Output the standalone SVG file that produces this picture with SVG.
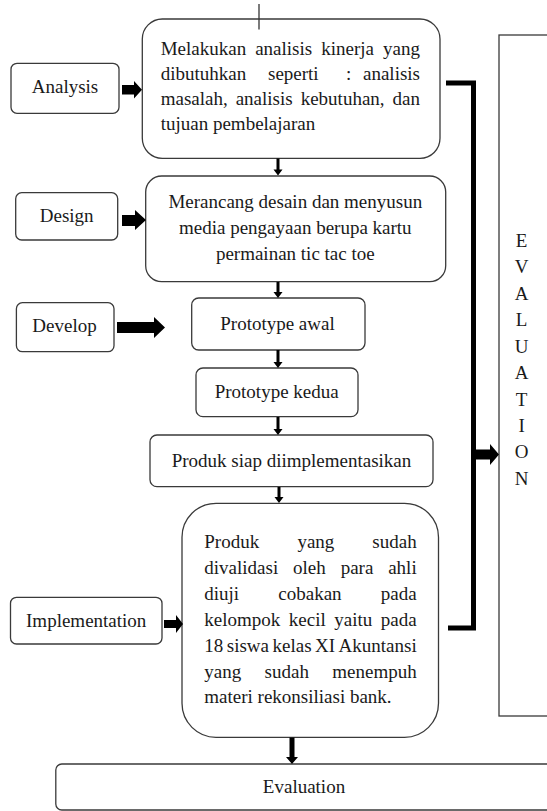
<svg xmlns="http://www.w3.org/2000/svg" width="547" height="811" viewBox="0 0 547 811">
<style>
.box{fill:#fff;stroke:#3a3a3a;stroke-width:1.3}
.t{font-family:"Liberation Serif","Times New Roman",serif;font-size:19px;fill:#1a1a1a}
.c{text-anchor:middle}
.e{text-anchor:end}
.arr{fill:#000}
.thick{fill:none;stroke:#000;stroke-width:5}
</style>
<rect width="547" height="811" fill="#fff"/>

<g id="evaluation-side">
<rect class="box" x="499" y="35" width="100" height="681"/>
<text class="t c" x="521.6" y="246.5">E</text>
<text class="t c" x="521.6" y="273">V</text>
<text class="t c" x="521.6" y="299.5">A</text>
<text class="t c" x="521.6" y="326">L</text>
<text class="t c" x="521.6" y="352.5">U</text>
<text class="t c" x="521.6" y="379">A</text>
<text class="t c" x="521.6" y="405.5">T</text>
<text class="t c" x="521.6" y="432">I</text>
<text class="t c" x="521.6" y="458">O</text>
<text class="t c" x="521.6" y="484.5">N</text>
</g>

<g id="analysis">
<rect class="box" x="11" y="63.3" width="108" height="50" rx="6"/>
<text class="t c" x="65" y="93.3">Analysis</text>
</g>

<g id="box-analisis">
<rect class="box" x="142.3" y="19" width="297.7" height="139.3" rx="20"/>
<text class="t" y="54.5"><tspan x="160.7">Melakukan</tspan><tspan x="255.2">analisis</tspan><tspan x="321.3">kinerja</tspan><tspan x="420" text-anchor="end">yang</tspan></text>
<text class="t" y="80"><tspan x="160.7">dibutuhkan</tspan><tspan x="268">seperti</tspan><tspan x="346">:</tspan><tspan x="420" text-anchor="end">analisis</tspan></text>
<text class="t" y="105"><tspan x="160.7">masalah,</tspan><tspan x="235.7">analisis</tspan><tspan x="300.7">kebutuhan,</tspan><tspan x="420" text-anchor="end">dan</tspan></text>
<text class="t" x="160.7" y="130">tujuan pembelajaran</text>
</g>

<g id="design">
<rect class="box" x="15.7" y="192.7" width="102" height="47.3" rx="6"/>
<text class="t c" x="66.7" y="221.7">Design</text>
</g>

<g id="box-design">
<rect class="box" x="145.7" y="176" width="300" height="105.7" rx="16"/>
<text class="t c" x="295.3" y="208">Merancang desain dan menyusun</text>
<text class="t c" x="295.3" y="234">media pengayaan berupa kartu</text>
<text class="t c" x="295.3" y="260">permainan tic tac toe</text>
</g>

<g id="develop">
<rect class="box" x="16.4" y="302.7" width="97.6" height="49" rx="6"/>
<text class="t c" x="64.5" y="331.7">Develop</text>
</g>

<g id="prototype-awal">
<rect class="box" x="191.7" y="298" width="173.3" height="52" rx="7"/>
<text class="t c" x="277.5" y="330">Prototype awal</text>
</g>

<g id="prototype-kedua">
<rect class="box" x="196" y="368" width="162" height="48.7" rx="7"/>
<text class="t c" x="276.7" y="398">Prototype kedua</text>
</g>

<g id="produk-siap">
<rect class="box" x="150" y="435" width="283" height="51.7" rx="7"/>
<text class="t c" x="291.5" y="466.7">Produk siap diimplementasikan</text>
</g>

<g id="implementation">
<rect class="box" x="10.5" y="597.3" width="151.5" height="46.7" rx="6"/>
<text class="t c" x="86.2" y="626.7">Implementation</text>
</g>

<g id="box-implementasi">
<rect class="box" x="182" y="503.3" width="256.5" height="234" rx="34"/>
<text class="t" y="548"><tspan x="204.3">Produk</tspan><tspan x="297.4">yang</tspan><tspan x="416.7" text-anchor="end">sudah</tspan></text>
<text class="t" y="574"><tspan x="204.3">divalidasi</tspan><tspan x="293.1">oleh</tspan><tspan x="340.7">para</tspan><tspan x="416.7" text-anchor="end">ahli</tspan></text>
<text class="t" y="600"><tspan x="204.3">diuji</tspan><tspan x="278.3">cobakan</tspan><tspan x="416.7" text-anchor="end">pada</tspan></text>
<text class="t" y="626"><tspan x="204.3">kelompok</tspan><tspan x="288.8">kecil</tspan><tspan x="334.3">yaitu</tspan><tspan x="416.7" text-anchor="end">pada</tspan></text>
<text class="t" y="652"><tspan x="204.3">18</tspan><tspan x="226.8">siswa</tspan><tspan x="272.5">kelas</tspan><tspan x="315">XI</tspan><tspan x="416.7" text-anchor="end">Akuntansi</tspan></text>
<text class="t" y="678"><tspan x="204.3">yang</tspan><tspan x="264.6">sudah</tspan><tspan x="416.7" text-anchor="end">menempuh</tspan></text>
<text class="t" x="204.3" y="703">materi rekonsiliasi bank.</text>
</g>

<g id="evaluation-bottom">
<rect class="box" x="55.8" y="764" width="520" height="46" rx="6"/>
<text class="t c" x="304" y="793.3">Evaluation</text>
</g>

<g id="connectors">
<line x1="259" y1="4" x2="259" y2="29.5" stroke="#333" stroke-width="1.3"/>
<polygon class="arr" points="122,85 134,85 134,81 142,89.7 134,98.5 134,94.5 122,94.5"/>
<polygon class="arr" points="122,215 135,215 135,210 146,220 135,230 135,226 122,226"/>
<polygon class="arr" points="117,322 154,322 154,317 165,327.5 154,338 154,333 117,333"/>
<polygon class="arr" points="164,620 176,620 176,615 183,624 176,633 176,628 164,628"/>
<polygon class="arr" points="476,449.5 490,449.5 490,444 499,454.5 490,465 490,459.5 476,459.5"/>
<polygon class="arr" points="276.5,158.5 279.5,158.5 279.5,169.5 282.5,169.5 278,175.5 273.5,169.5 276.5,169.5"/>
<polygon class="arr" points="276.5,282 279.5,282 279.5,292 282.5,292 278,298 273.5,292 276.5,292"/>
<polygon class="arr" points="276.5,350 279.5,350 279.5,362 282.5,362 278,368 273.5,362 276.5,362"/>
<polygon class="arr" points="276.5,417 279.5,417 279.5,429 282.5,429 278,435 273.5,429 276.5,429"/>
<polygon class="arr" points="277.5,487 280.5,487 280.5,497 283.5,497 279,503 274.5,497 277.5,497"/>
<polygon class="arr" points="289.5,737.5 294.5,737.5 294.5,757 298,757 292,764 286,757 289.5,757"/>
<path class="thick" d="M446 83 H473.5 V628 H448"/>
</g>
</svg>
